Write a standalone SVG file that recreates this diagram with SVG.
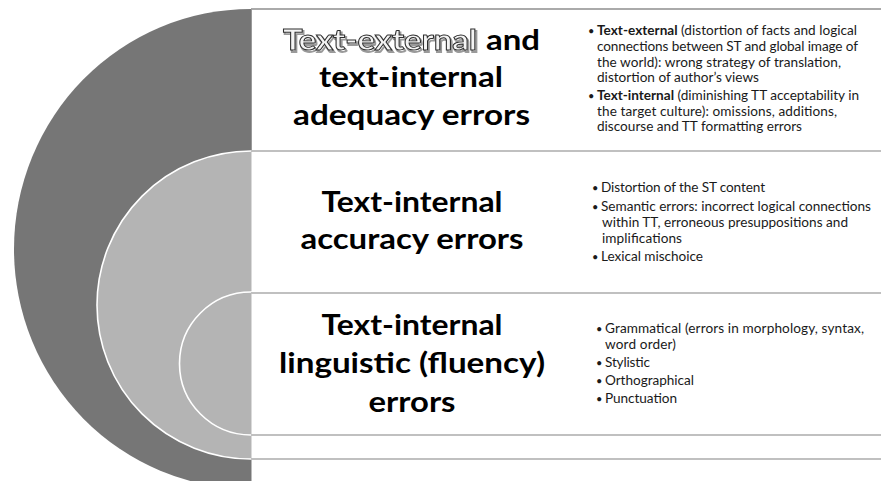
<svg xmlns="http://www.w3.org/2000/svg" width="881" height="481" viewBox="0 0 881 481">
  <defs>
    <style>
      .ring-outer { fill: #767676; }
      .ring { fill: #b4b4b4; stroke: #ffffff; stroke-width: 1.6; }
      .rule { stroke: #c0c0c0; stroke-width: 2.2; fill: none; }
      .rule-top { stroke: #8e8e8e; stroke-width: 1.6; fill: none; }
      .head { font-family: Lato, "Open Sans", sans-serif; font-weight: 700; font-size: 29px; fill: #000000; text-anchor: middle; }
      .body { font-family: Lato, "Open Sans", sans-serif; font-size: 13.6px; fill: #1a1a1a; }
      .dot { font-family: Lato, "Open Sans", sans-serif; font-size: 11px; fill: #1a1a1a; }
      .b { font-weight: 700; }
      .wa { font-family: Lato, "Open Sans", sans-serif; font-weight: 700; font-size: 29px; }
    </style>
    <filter id="soft" x="-10%" y="-30%" width="120%" height="160%">
      <feGaussianBlur stdDeviation="0.7"/>
    </filter>
    <filter id="flat" x="-5%" y="-20%" width="110%" height="140%">
      <feOffset dx="0" dy="0"/>
    </filter>
  </defs>

  <!-- white panel behind the rows -->
  <rect x="251" y="9" width="630" height="472" fill="#ffffff"/>

  <!-- nested target rings -->
  <g id="ring-adequacy">
    <ellipse class="ring-outer" cx="251" cy="249" rx="237" ry="240"/>
  </g>
  <g id="ring-accuracy">
    <circle class="ring" cx="251" cy="305" r="154"/>
  </g>
  <g id="ring-fluency">
    <circle class="ring" cx="251" cy="363.5" r="71.5"/>
  </g>
  <!-- mask the right halves of the rings -->
  <rect x="251.5" y="0" width="630" height="481" fill="#ffffff"/>

  <!-- row separators -->
  <g id="connectors">
    <line class="rule-top" x1="251" y1="9" x2="881" y2="9"/>
    <line x1="251.5" y1="9" x2="251.5" y2="151" stroke="#9a9a9a" stroke-width="1"/>
    <line class="rule" x1="251" y1="151" x2="881" y2="151"/>
    <line class="rule" x1="251" y1="293" x2="881" y2="293"/>
    <line class="rule" x1="251" y1="435" x2="881" y2="435"/>
    <line class="rule" x1="251" y1="459" x2="881" y2="459"/>
  </g>

  <!-- row 1: adequacy -->
  <g id="row-adequacy">
    <!-- outlined word with a soft drop shadow -->
    <text class="wa" x="283" y="50" textLength="194" lengthAdjust="spacingAndGlyphs" fill="none" stroke="#9a9a9a" stroke-width="1.8" filter="url(#soft)" transform="translate(1.3,1.5)">Text-external</text>
    <g filter="url(#flat)">
      <text class="wa" x="283" y="50" textLength="194" lengthAdjust="spacingAndGlyphs" fill="#f4f4f4" stroke="#2e2e2e" stroke-width="0.95">Text-external</text>
    </g>
    <text class="wa" x="486" y="50" textLength="54" lengthAdjust="spacingAndGlyphs" fill="#000000">and</text>
    <text class="head" x="411" y="87" textLength="184" lengthAdjust="spacingAndGlyphs">text-internal</text>
    <text class="head" x="411.5" y="125" textLength="237" lengthAdjust="spacingAndGlyphs">adequacy errors</text>

    <text class="dot" x="588" y="35">•</text>
    <text class="body" x="597" y="35" textLength="260" lengthAdjust="spacing"><tspan class="b">Text-external</tspan> (distortion of facts and logical</text>
    <text class="body" x="597" y="51" textLength="261" lengthAdjust="spacing">connections between ST and global image of</text>
    <text class="body" x="597" y="66.5" textLength="244" lengthAdjust="spacing">the world): wrong strategy of translation,</text>
    <text class="body" x="597" y="82" textLength="162" lengthAdjust="spacing">distortion of author’s views</text>
    <text class="dot" x="588" y="100">•</text>
    <text class="body" x="597" y="100" textLength="262" lengthAdjust="spacing"><tspan class="b">Text-internal</tspan> (diminishing TT acceptability in</text>
    <text class="body" x="597" y="115.5" textLength="240" lengthAdjust="spacing">the target culture): omissions, additions,</text>
    <text class="body" x="597" y="131" textLength="205" lengthAdjust="spacing">discourse and TT formatting errors</text>
  </g>

  <!-- row 2: accuracy -->
  <g id="row-accuracy">
    <text class="head" x="412" y="212" textLength="181" lengthAdjust="spacingAndGlyphs">Text-internal</text>
    <text class="head" x="412" y="249" textLength="223" lengthAdjust="spacingAndGlyphs">accuracy errors</text>

    <text class="dot" x="592" y="192">•</text>
    <text class="body" x="601" y="192" textLength="164" lengthAdjust="spacing">Distortion of the ST content</text>
    <text class="dot" x="592" y="211">•</text>
    <text class="body" x="601" y="211" textLength="270" lengthAdjust="spacing">Semantic errors: incorrect logical connections</text>
    <text class="body" x="602" y="227" textLength="246" lengthAdjust="spacing">within TT, erroneous presuppositions and</text>
    <text class="body" x="602" y="243" textLength="80" lengthAdjust="spacing">implifications</text>
    <text class="dot" x="592" y="261">•</text>
    <text class="body" x="601" y="261" textLength="102" lengthAdjust="spacing">Lexical mischoice</text>
  </g>

  <!-- row 3: fluency -->
  <g id="row-fluency">
    <text class="head" x="412" y="335" textLength="181" lengthAdjust="spacingAndGlyphs">Text-internal</text>
    <text class="head" x="412" y="373" textLength="266" lengthAdjust="spacingAndGlyphs">linguistic (fluency)</text>
    <text class="head" x="412" y="412" textLength="87" lengthAdjust="spacingAndGlyphs">errors</text>

    <text class="dot" x="596" y="333">•</text>
    <text class="body" x="605" y="333" textLength="259" lengthAdjust="spacing">Grammatical (errors in morphology, syntax,</text>
    <text class="body" x="605" y="349" textLength="71" lengthAdjust="spacing">word order)</text>
    <text class="dot" x="596" y="367">•</text>
    <text class="body" x="605" y="367" textLength="45" lengthAdjust="spacing">Stylistic</text>
    <text class="dot" x="596" y="385">•</text>
    <text class="body" x="605" y="385" textLength="89" lengthAdjust="spacing">Orthographical</text>
    <text class="dot" x="596" y="403">•</text>
    <text class="body" x="605" y="403" textLength="72" lengthAdjust="spacing">Punctuation</text>
  </g>
</svg>
